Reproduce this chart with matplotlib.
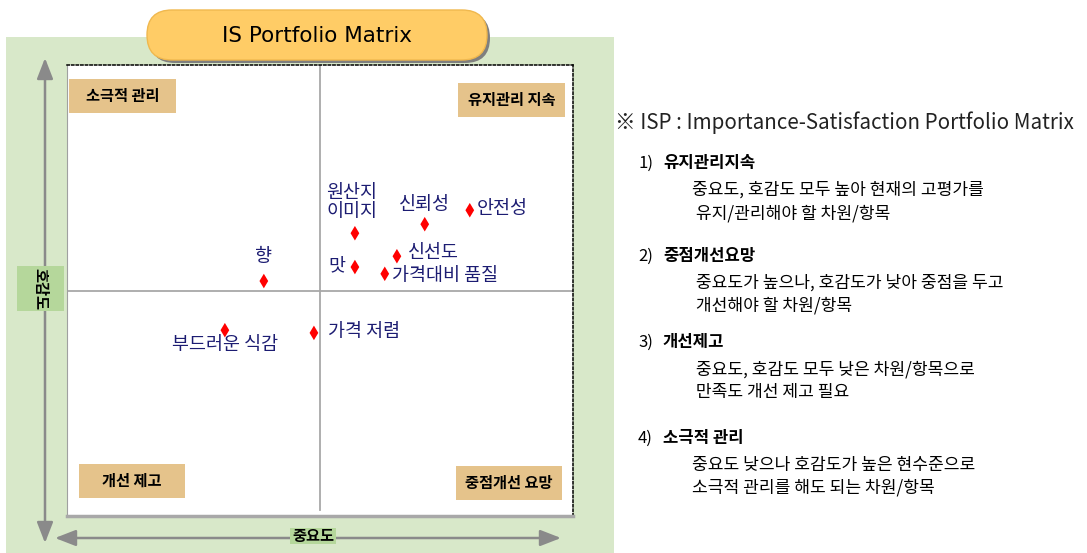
import matplotlib
matplotlib.use("Agg")
import matplotlib.pyplot as plt
from matplotlib.patches import Rectangle, FancyBboxPatch

plt.rcParams['font.family'] = ['Noto Sans CJK KR', 'DejaVu Sans']

# ---- data (importance = x, satisfaction = y; centre of matrix = 5, 5) ----
items = ['향', '원산지\n이미지', '신뢰성', '안전성', '신선도', '맛', '가격대비 품질', '가격 저렴', '부드러운 식감']
importance = [3.89, 5.69, 7.07, 7.96, 6.52, 5.69, 6.28, 4.88, 3.12]
satisfaction = [5.21, 6.27, 6.47, 6.78, 5.76, 5.52, 5.37, 4.06, 4.12]
x_mid, y_mid = 5.0, 5.0

quadrant_labels = ['소극적 관리', '유지관리 지속', '개선 제고', '중점개선 요망']
title = 'IS Portfolio Matrix'
x_axis_label = '중요도'
y_axis_label = '호감도'
note_title = '※ ISP : Importance-Satisfaction Portfolio Matrix'
note_heads = ['유지관리지속', '중점개선요망', '개선제고', '소극적 관리']
note_lines = [
    ['중요도, 호감도 모두 높아 현재의 고평가를', ' 유지/관리해야 할 차원/항목'],
    [' 중요도가 높으나, 호감도가 낮아 중점을 두고', ' 개선해야 할 차원/항목'],
    [' 중요도, 호감도 모두 낮은 차원/항목으로', ' 만족도 개선 제고 필요'],
    ['중요도 낮으나 호감도가 높은 현수준으로', '소극적 관리를 해도 되는 차원/항목'],
]

W, H = 1087, 553
fig = plt.figure(figsize=(W / 100, H / 100), dpi=100)
bg = fig.add_axes([0, 0, 1, 1])
bg.set_xlim(0, W)
bg.set_ylim(0, H)
bg.axis('off')


def Y(py):
    return H - py


GREEN = '#d8e8c9'
GREEN2 = '#b5d79b'
TAN = '#e5c38b'
NAVY = '#1c1c72'
GRAY = '#8a8a8a'

# green panel
bg.add_patch(Rectangle((6, Y(553)), 608, 553 - 37, facecolor=GREEN, edgecolor='none', zorder=0))

# title pill with shadow
bg.add_patch(FancyBboxPatch((150, Y(63)), 340, 50, boxstyle='round,pad=0,rounding_size=25',
                            facecolor='#7f7f7f', edgecolor='none', zorder=3))
bg.add_patch(FancyBboxPatch((147, Y(60)), 340, 50, boxstyle='round,pad=0,rounding_size=25',
                            facecolor='#ffcc66', edgecolor='#f0b84e', lw=1, zorder=4))
bg.text(317, Y(36), title, fontsize=15.5, ha='center', va='center', color='black', zorder=5,
        family=['DejaVu Sans'])

# arrows
bg.annotate('', xy=(45, Y(58)), xytext=(45, Y(543)),
            arrowprops=dict(arrowstyle='<|-|>,head_length=0.9,head_width=0.35', color=GRAY, lw=1.8,
                            shrinkA=0, shrinkB=0, mutation_scale=14), zorder=2)
bg.annotate('', xy=(55, Y(538)), xytext=(561, Y(538)),
            arrowprops=dict(arrowstyle='<|-|>,head_length=0.9,head_width=0.35', color=GRAY, lw=1.8,
                            shrinkA=0, shrinkB=0, mutation_scale=14), zorder=2)

# axis name boxes
bg.add_patch(Rectangle((17, Y(311)), 47, 45, facecolor=GREEN2, edgecolor='none', zorder=3))
bg.text(40, Y(289), y_axis_label, rotation=-90, fontsize=11, fontweight='bold', ha='center', va='center', zorder=4)
bg.add_patch(Rectangle((290, Y(544)), 46, 16, facecolor=GREEN2, edgecolor='none', zorder=3))
bg.text(313, Y(536), x_axis_label, fontsize=11, fontweight='bold', ha='center', va='center', zorder=4)

# ---- matrix axes ----
L, T, R, B = 67, 65, 573, 516
ax = fig.add_axes([L / W, (H - B) / H, (R - L) / W, (B - T) / H])
ax.set_zorder(5)
ax.set_xlim(0, 10)
ax.set_ylim(0, 10)
ax.set_xticks([])
ax.set_yticks([])
ax.set_facecolor('white')
ax.spines['top'].set_linestyle((0, (1.5, 1.5)))
ax.spines['right'].set_linestyle((0, (1.5, 1.5)))
ax.spines['top'].set_color('black')
ax.spines['right'].set_color('black')
ax.spines['left'].set_color('#a0a0a0')
ax.spines['bottom'].set_color('#a8a8a8')
ax.spines['bottom'].set_linewidth(2.5)
ax.spines['top'].set_linewidth(1.1)
ax.spines['right'].set_linewidth(1.1)

ax.axvline(x_mid, ymin=0.013, ymax=1, color='#a8a8a8', lw=1.3)
ax.axhline(y_mid, color='#a8a8a8', lw=1.3)

ax.scatter(importance, satisfaction, marker='d', s=55, color='#ff0000', edgecolor='none', zorder=5)

# label offsets in points (style only)
offsets = [(0, 17, 'center', 'center'), (-2, 22, 'center', 'center'), (0, 14, 'center', 'center'),
           (5, 1, 'left', 'center'), (8, 2, 'left', 'center'), (-7, 0.5, 'right', 'center'),
           (5, -1.5, 'left', 'center'), (10, 0.5, 'left', 'center'), (0, -11, 'center', 'center')]
for name, xv, yv, (dx, dy, ha, va) in zip(items, importance, satisfaction, offsets):
    ax.annotate(name, (xv, yv), xytext=(dx, dy), textcoords='offset points', ha=ha, va=va,
                fontsize=13.3, color=NAVY, linespacing=1.1, zorder=6)

# quadrant label boxes (in figure pixel space)
qboxes = [(69, 79, 176, 113), (458, 83, 565, 117), (79, 464, 185, 498), (456, 466, 562, 500)]
for lab, (x0, y0, x1, y1) in zip(quadrant_labels, qboxes):
    fig.patches.append(Rectangle((x0 / W, (H - y1) / H), (x1 - x0) / W, (y1 - y0) / H,
                                 transform=fig.transFigure, facecolor=TAN, edgecolor='none', zorder=10))
    fig.text((x0 + x1) / 2 / W, (H - (y0 + y1) / 2) / H, lab, ha='center', va='center',
             fontsize=11, fontweight='bold', color='black', zorder=11)

# ---- notes on the right ----
bg.text(615, Y(123), note_title, fontsize=14.8, ha='left', va='center', color='#222222')
head_y = [163, 256, 342, 438]
for i, (hd, lines, hy) in enumerate(zip(note_heads, note_lines, head_y)):
    bg.text(638, Y(hy), f'{i + 1})', fontsize=12, ha='left', va='center')
    bg.text(663, Y(hy), hd, fontsize=12, fontweight='bold', ha='left', va='center')
    bg.text(692, Y(hy + 27), lines[0], fontsize=12.3, ha='left', va='center')
    bg.text(692, Y(hy + 50), lines[1], fontsize=12.3, ha='left', va='center')

fig.savefig('out.png', dpi=100)
